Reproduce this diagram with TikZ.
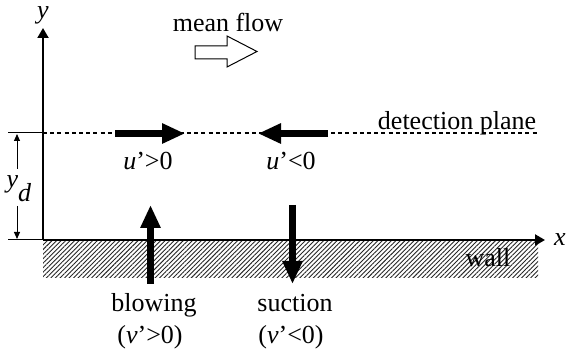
\documentclass[tikz,border=0pt]{standalone}
\usepackage{fontspec}
\setmainfont{Liberation Serif}
\usetikzlibrary{arrows.meta, patterns.meta}

\begin{document}
\begin{tikzpicture}[
    x=0.5pt, y=-0.5pt,
    every node/.style={font=\fontsize{13}{15}\selectfont, inner sep=0pt},
    txt/.style={anchor=base},
    axis/.style={-{Triangle[length=5pt, width=5.5pt]}, line width=1pt},
    dimline/.style={-{Triangle[length=3.5pt, width=3pt]}, line width=0.5pt},
    fat/.style={-{Triangle[length=11.5pt, width=9.5pt]}, line width=3.5pt},
    plane/.style={line width=0.9pt, dash pattern=on 2pt off 1.6pt}
  ]
  \useasboundingbox (0,0) rectangle (567,356);
  % points of the frame
  \coordinate (O)     at (43,240);
  \coordinate (ytip)  at (43,28);
  \coordinate (xtip)  at (545,240);
  \coordinate (wl)    at (8,240);
  \coordinate (wend)  at (538,278);
  \coordinate (dl)    at (8,133);
  \coordinate (dp)    at (43,133);
  \coordinate (dend)  at (538,133);
  \coordinate (yda)   at (17,169);
  \coordinate (ydtop) at (17,134);
  \coordinate (ydb)   at (17,206);
  \coordinate (ydbot) at (17,239);
  % wall
  \fill[pattern={Lines[angle=45, distance=1.6pt, line width=0.45pt]},
        pattern color=black!85] (O) rectangle (wend);
  \node[txt] (wall) at (488,267) {wall};
  % axes and detection plane
  \draw[axis] (O) -- (ytip);
  \draw[axis] (O) -- (xtip);
  \node[txt] (ylab) at (43,19) {\textit{y}};
  \node[txt] (xlab) at (560,246) {\textit{x}};
  \draw[line width=0.5pt] (dl) -- (dp);
  \draw[line width=0.5pt] (wl) -- (O);
  \draw[plane] (dp) -- (dend);
  \node[txt] (plane) at (457,130) {detection plane};
  % y_d
  \node[txt] (yd) at (19,188) {\textit{y}\raisebox{-7pt}{\textit{d}}};
  \draw[dimline] (yda) -- (ydtop);
  \draw[dimline] (ydb) -- (ydbot);
  % mean flow
  \node[txt] (flow) at (228,32) {mean flow};
  \draw[line width=0.5pt, fill=white] (195,46) -- (227,46) -- (227,36)
    -- (257,51.5) -- (227,67) -- (227,59) -- (195,59) -- cycle;
  % fluctuations
  \coordinate (upa) at (115,133.5);
  \coordinate (upb) at (185,133.5);
  \coordinate (una) at (328,133.5);
  \coordinate (unb) at (258,133.5);
  \draw[fat] (upa) -- (upb);
  \draw[fat] (una) -- (unb);
  \node[txt] (upos) at (148,170) {\textit{u}’>0};
  \node[txt] (uneg) at (291,170) {\textit{u}’<0};
  % blowing and suction
  \coordinate (bla) at (150.5,284);
  \coordinate (blb) at (150.5,205);
  \coordinate (sua) at (292.5,205);
  \coordinate (sub) at (292.5,284);
  \draw[fat] (bla) -- (blb);
  \draw[fat] (sua) -- (sub);
  \node[txt] (blow)  at (154,312) {blowing};
  \node[txt] (blowv) at (150,344) {(\textit{v}’>0)};
  \node[txt] (suck)  at (295,312) {suction};
  \node[txt] (suckv) at (291,344) {(\textit{v}’<0)};
\end{tikzpicture}
\end{document}
